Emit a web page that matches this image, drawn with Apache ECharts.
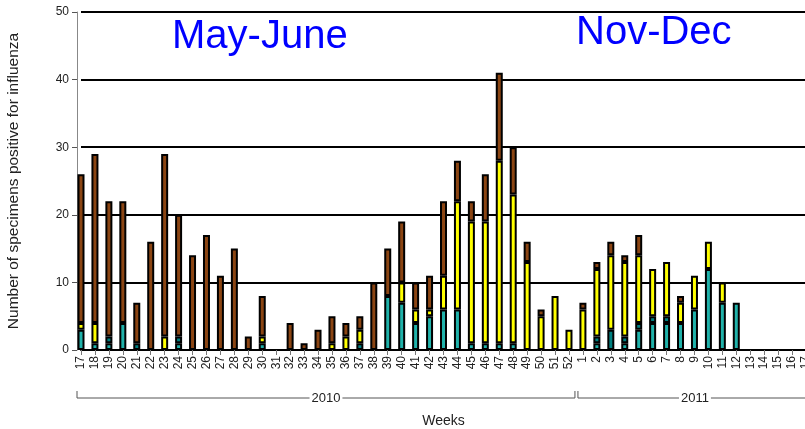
<!DOCTYPE html>
<html>
<head>
<meta charset="utf-8">
<script src="https://cdn.jsdelivr.net/npm/echarts@6/dist/echarts.min.js"></script>
<style>
  html, body { margin: 0; padding: 0; background: #fff; }
  #flu-chart { width: 805px; height: 429px; }
</style>
</head>
<body>
<div id="flu-chart"></div>
<script>
// Weekly influenza positives, week 17 of 2010 to week 17 of 2011

var weeks = [
  "17", "18", "19", "20", "21", "22", "23", "24", "25", "26", "27", "28",
  "29", "30", "31", "32", "33", "34", "35", "36", "37", "38", "39", "40",
  "41", "42", "43", "44", "45", "46", "47", "48", "49", "50", "51", "52",
  "1", "2", "3", "4", "5", "6", "7", "8", "9", "10", "11", "12",
  "13", "14", "15", "16", "17",
];

var years = ["2010", "2011"];
var weeksPerYear = [36, 17];

var periodLabels = ["May-June", "Nov-Dec"];

var yTicks = [0, 10, 20, 30, 40, 50];

// stacked from the bottom up
var tealData = [
  3, 1, 1, 4, 0, 0, 0, 1, 0, 0, 0, 0,
  0, 1, 0, 0, 0, 0, 0, 0, 0, 0, 8, 7,
  4, 5, 6, 6, 1, 1, 1, 1, 0, 0, 0, 0,
  0, 1, 0, 1, 3, 4, 4, 4, 6, 12, 7, 7,
  0, 0, 0, 0, 0,
];
var darkTealData = [
  0, 0, 1, 0, 1, 0, 0, 1, 0, 0, 0, 0,
  0, 0, 0, 0, 0, 0, 0, 0, 1, 0, 0, 0,
  0, 0, 0, 0, 0, 0, 0, 0, 0, 0, 0, 0,
  0, 1, 3, 1, 1, 1, 1, 0, 0, 0, 0, 0,
  0, 0, 0, 0, 0,
];
var yellowData = [
  1, 3, 0, 0, 0, 0, 2, 0, 0, 0, 0, 0,
  0, 1, 0, 0, 0, 0, 1, 2, 2, 0, 0, 3,
  2, 1, 5, 16, 18, 18, 27, 22, 13, 5, 8, 3,
  6, 10, 11, 11, 10, 7, 8, 3, 5, 4, 3, 0,
  0, 0, 0, 0, 0,
];
var brownData = [
  22, 25, 20, 18, 6, 16, 27, 18, 14, 17, 11, 15,
  2, 6, 0, 4, 1, 3, 4, 2, 2, 10, 7, 9,
  4, 5, 11, 6, 3, 7, 13, 7, 3, 1, 0, 0,
  1, 1, 2, 1, 3, 0, 0, 1, 0, 0, 0, 0,
  0, 0, 0, 0, 0,
];

var dom = document.getElementById("flu-chart");
var myChart = echarts.init(dom);

// empty segments should not leave a black border line
function noZero(arr) {
  return arr.map(function (v) {
    return v === 0 ? "-" : v;
  });
}

function barSeries(name, color, data) {
  return {
    name: name,
    type: "bar",
    stack: "total",
    barWidth: 7,
    itemStyle: {
      color: color,
      borderColor: "#000",
      borderWidth: 2,
    },
    data: noZero(data),
  };
}

var option;
option = {
  animation: false,
  grid: {
    left: 81,
    right: -1,
    top: 12,
    bottom: 79,
    outerBoundsMode: "none",
  },
  xAxis: {
    type: "category",
    data: weeks,
    boundaryGap: false,
    name: "Weeks",
    nameLocation: "middle",
    nameGap: 64,
    nameTextStyle: {
      fontFamily: "Liberation Sans",
      fontSize: 14,
      color: "#222",
    },
    axisLine: {
      lineStyle: { color: "#000", width: 2 },
    },
    axisTick: {
      length: 5,
      lineStyle: { color: "#777" },
    },
    axisLabel: {
      interval: 0,
      rotate: 90,
      margin: 6,
      fontFamily: "Liberation Sans",
      fontSize: 12,
      color: "#222",
    },
    splitLine: { show: false },
  },
  yAxis: {
    type: "value",
    min: yTicks[0],
    max: yTicks[yTicks.length - 1],
    interval: 10,
    offset: 4,
    name: "Number of specimens positive for influenza",
    nameLocation: "middle",
    nameGap: 55,
    nameTextStyle: {
      fontFamily: "Liberation Sans",
      fontSize: 15.5,
      color: "#222",
    },
    axisLine: {
      show: true,
      lineStyle: { color: "#888", width: 1 },
    },
    axisTick: {
      show: true,
      length: 5,
      lineStyle: { color: "#555" },
    },
    axisLabel: {
      margin: 8,
      fontFamily: "Liberation Sans",
      fontSize: 12,
      color: "#222",
    },
    splitLine: {
      lineStyle: { color: "#000", width: 2 },
    },
  },
  series: [
    barSeries("teal", "#20b2aa", tealData),
    barSeries("dark teal", "#008080", darkTealData),
    barSeries("yellow", "#ffff00", yellowData),
    barSeries("brown", "#8b4513", brownData),
  ],
};

if (option && typeof option === "object") {
  myChart.setOption(option);
}

// year brackets under the week labels
function addBrackets() {
  var step = myChart.convertToPixel({ xAxisIndex: 0 }, 1) - myChart.convertToPixel({ xAxisIndex: 0 }, 0);
  var start = 0;
  var elements = [];
  var lineY = 398;
  var tickTop = 391;
  years.forEach(function (year, i) {
    var end = start + weeksPerYear[i] - 1;
    var x0 = i === 0 ? 77 : myChart.convertToPixel({ xAxisIndex: 0 }, start) - step / 2 + 2;
    var x1 = myChart.convertToPixel({ xAxisIndex: 0 }, end) + step / 2 - 1;
    elements.push({
      type: "polyline",
      shape: {
        points: [
          [x0, tickTop],
          [x0, lineY],
          [x1, lineY],
          [x1, tickTop],
        ],
      },
      style: { stroke: "#555", lineWidth: 1, fill: null },
      z: 10,
    });
    elements.push({
      type: "text",
      x: (x0 + x1) / 2,
      y: lineY,
      style: {
        text: year,
        fontFamily: "Liberation Sans",
        fontSize: 13,
        fill: "#222",
        align: "center",
        verticalAlign: "middle",
        backgroundColor: "#fff",
        padding: [0, 2],
      },
      z: 11,
    });
    start = end + 1;
  });

  // season captions
  elements.push({
    type: "text",
    x: 172,
    y: 17,
    style: {
      text: periodLabels[0],
      fontFamily: "Liberation Sans",
      fontSize: 40,
      fill: "#0000ff",
    },
    z: 12,
  });
  elements.push({
    type: "text",
    x: 576,
    y: 13,
    style: {
      text: periodLabels[1],
      fontFamily: "Liberation Sans",
      fontSize: 40,
      fill: "#0000ff",
    },
    z: 12,
  });

  myChart.setOption({ graphic: elements });
}

addBrackets();
</script>
</body>
</html>
